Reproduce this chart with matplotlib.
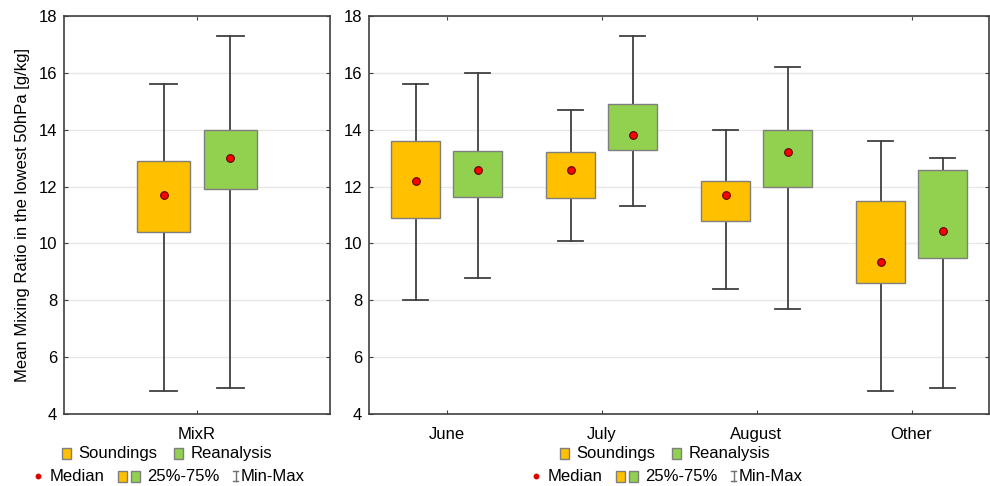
#!/usr/bin/env python3
"""Mixing ratio box plots: soundings vs reanalysis, overall and per month."""
import matplotlib
matplotlib.use("Agg")
import matplotlib.pyplot as plt
from matplotlib.offsetbox import (AnchoredOffsetbox, DrawingArea, HPacker,
                                  TextArea)
from matplotlib.patches import Rectangle
from matplotlib.lines import Line2D

plt.rcParams["font.family"] = ["Liberation Sans", "DejaVu Sans"]
plt.rcParams["font.size"] = 12

# overall (MixR)
all_label = ["MixR"]
all_snd = {"q1": 10.4, "q3": 12.9, "med": 11.7, "whislo": 4.8, "whishi": 15.6}
all_rea = {"q1": 11.9, "q3": 14.0, "med": 13.0, "whislo": 4.9, "whishi": 17.3}

# per month
months = ["June", "July", "August", "Other"]
snd_q1 = [10.9, 11.6, 10.8, 8.6]
snd_q3 = [13.6, 13.2, 12.2, 11.5]
snd_med = [12.2, 12.6, 11.7, 9.35]
snd_min = [8.0, 10.1, 8.4, 4.8]
snd_max = [15.6, 14.7, 14.0, 13.6]
rea_q1 = [11.65, 13.3, 12.0, 9.5]
rea_q3 = [13.25, 14.9, 14.0, 12.6]
rea_med = [12.6, 13.8, 13.2, 10.45]
rea_min = [8.8, 11.3, 7.7, 4.9]
rea_max = [16.0, 17.3, 16.2, 13.0]

ORANGE = "#FFC000"
GREEN = "#92D050"
EDGE = "#7f7f7f"
DARK = "#404040"


def stats(q1, q3, med, lo, hi):
    return [{"q1": a, "q3": b, "med": m, "whislo": l, "whishi": h, "fliers": []}
            for a, b, m, l, h in zip(q1, q3, med, lo, hi)]


def draw(ax, st, pos, color, width):
    bp = ax.bxp(st, positions=pos, widths=width, capwidths=width / 2,
                patch_artist=True, showfliers=False, manage_ticks=False,
                boxprops=dict(facecolor=color, edgecolor=EDGE, linewidth=1),
                whiskerprops=dict(color=DARK, linewidth=1.3),
                capprops=dict(color=DARK, linewidth=1.3),
                medianprops=dict(linewidth=0))
    for b in bp["boxes"]:
        b.set_zorder(3)
    ax.plot(pos, [s["med"] for s in st], "o", ms=5.5, mfc="#ff0000",
            mec="#5a0000", mew=0.8, zorder=4)


def style(ax, n):
    ax.set_ylim(4, 18)
    ax.set_yticks(range(4, 19, 2))
    ax.set_xlim(-0.5, n - 0.5)
    ax.grid(axis="y", color="#e8e8e8", linewidth=1, zorder=0)
    ax.set_axisbelow(True)
    for sp in ax.spines.values():
        sp.set_color(DARK)
        sp.set_linewidth(1.2)
    ax.tick_params(direction="in", length=3, color=DARK, top=True, right=True)
    ax.tick_params(axis="y", pad=5)
    ax.tick_params(axis="x", pad=9)


fig = plt.figure(figsize=(9.9, 4.86), dpi=100)
ax1 = fig.add_axes([64 / 990, 1 - 414 / 486, 266 / 990, 398 / 486])
ax2 = fig.add_axes([369 / 990, 1 - 414 / 486, 620 / 990, 398 / 486])

# left panel
all_snd["fliers"] = []
all_rea["fliers"] = []
draw(ax1, [all_snd], [-0.125], ORANGE, 0.2)
draw(ax1, [all_rea], [0.125], GREEN, 0.2)
style(ax1, 1)
ax1.set_xticks([0])
ax1.set_xticklabels(all_label)
ax1.set_ylabel("Mean Mixing Ratio in the lowest 50hPa [g/kg]", labelpad=6)

# right panel
x = list(range(len(months)))
draw(ax2, stats(snd_q1, snd_q3, snd_med, snd_min, snd_max),
     [i - 0.2 for i in x], ORANGE, 0.32)
draw(ax2, stats(rea_q1, rea_q3, rea_med, rea_min, rea_max),
     [i + 0.2 for i in x], GREEN, 0.32)
style(ax2, len(months))
ax2.set_xticks(x)
ax2.set_xticklabels(months)


# legends built from offset boxes (two rows under each panel)
def pt(v):
    return v * 72 / fig.dpi


def square(color, w=9, h=11):
    da = DrawingArea(pt(w), pt(h))
    da.add_artist(Rectangle((0, 0), pt(w), pt(h), fc=color, ec=EDGE, lw=1))
    return da


def gap(w):
    return DrawingArea(pt(w), 1)


def dot():
    da = DrawingArea(pt(6), pt(6))
    da.add_artist(Line2D([pt(3)], [pt(3)], marker="o", ms=3.2, mfc="#e00000",
                         mec="#e00000", ls="none"))
    return da


def ibeam():
    w, h = pt(7), pt(12)
    da = DrawingArea(w, h)
    kw = dict(color="#707070", lw=1)
    da.add_artist(Line2D([w / 2, w / 2], [1, h - 1], **kw))
    da.add_artist(Line2D([0.5, w - 0.5], [h - 1, h - 1], **kw))
    da.add_artist(Line2D([0.5, w - 0.5], [1, 1], **kw))
    return da


def txt(s):
    return TextArea(s, textprops=dict(fontsize=12, color="black"))


def row(children, xc, yc):
    box = HPacker(children=children, sep=0, pad=0, align="center")
    ab = AnchoredOffsetbox(loc="center", child=box, pad=0, borderpad=0,
                           frameon=False, bbox_to_anchor=(xc / 990, 1 - yc / 486),
                           bbox_transform=fig.transFigure)
    fig.add_artist(ab)


for xc in (167, 665):
    row([square(ORANGE), gap(7), txt("Soundings"), gap(17),
         square(GREEN), gap(7), txt("Reanalysis")], xc, 453)
    row([dot(), gap(9), txt("Median"), gap(13), square(ORANGE), gap(4),
         square(GREEN), gap(7), txt("25%-75%"), gap(13), ibeam(), gap(2),
         txt("Min-Max")], xc + 3, 476)

fig.savefig("out.png", dpi=100)
